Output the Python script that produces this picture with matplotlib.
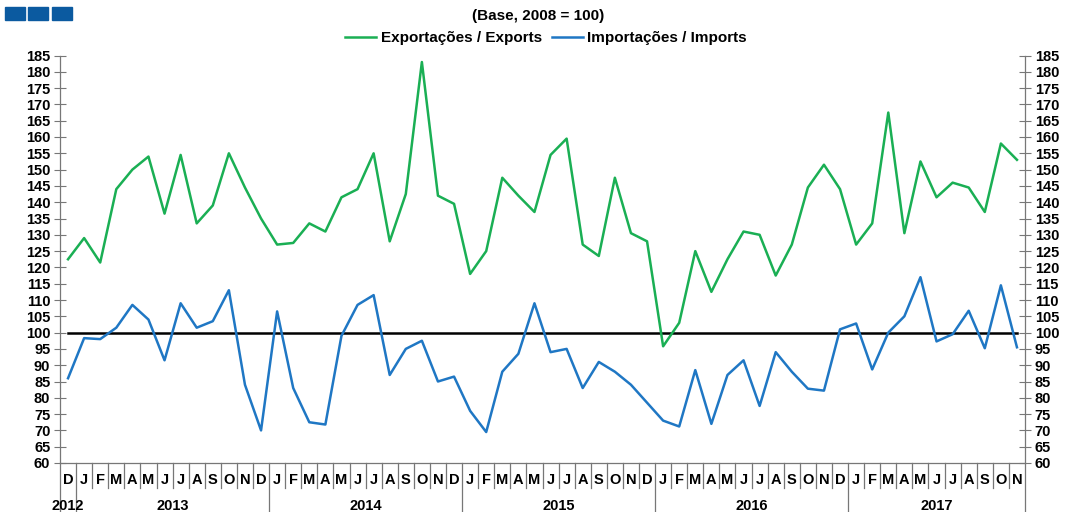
import matplotlib.pyplot as plt
import matplotlib.transforms as mtransforms
from matplotlib.patches import Rectangle
import numpy as np

plt.rcParams['font.family'] = ['Liberation Sans', 'DejaVu Sans']

months = ['D'] + ['J', 'F', 'M', 'A', 'M', 'J', 'J', 'A', 'S', 'O', 'N', 'D'] * 4 + \
         ['J', 'F', 'M', 'A', 'M', 'J', 'J', 'A', 'S', 'O', 'N']
years = ['2012', '2013', '2014', '2015', '2016', '2017']
year_start = [0, 1, 13, 25, 37, 49]

exports = [122.5, 129, 121.5, 144, 150, 154, 136.5, 154.5, 133.5, 139, 155, 144.5, 135,
           127, 127.5, 133.5, 131, 141.5, 144, 155, 128, 142.5, 183, 142, 139.5,
           118, 125, 147.5, 142, 137, 154.5, 159.5, 127, 123.5, 147.5, 130.5, 128,
           95.8, 103, 125, 112.5, 122.5, 131, 130, 117.5, 127, 144.5, 151.5, 144,
           127, 133.5, 167.5, 130.5, 152.5, 141.5, 146, 144.5, 137, 158, 153]
imports = [86, 98.3, 98, 101.5, 108.5, 104, 91.5, 109, 101.5, 103.5, 113, 84, 70,
           106.5, 83, 72.5, 71.8, 99, 108.5, 111.5, 87, 95, 97.5, 85, 86.5,
           76, 69.5, 88, 93.5, 109, 94, 95, 83, 91, 88, 84, 78.5,
           73, 71.2, 88.5, 72, 87, 91.5, 77.5, 94, 88, 82.8, 82.2, 101,
           102.8, 88.7, 100, 105, 117, 97.3, 99.5, 106.7, 95.2, 114.5, 95.5]

x = np.arange(len(months))

fig = plt.figure(figsize=(10.69, 5.12), dpi=100)
ax = fig.add_axes([60 / 1069, 49 / 512, 965 / 1069, 407.5 / 512])

green = '#1aaf54'
blue = '#1f77c4'
ax.plot(x, exports, color=green, lw=1.8, label='Exportações / Exports')
ax.plot(x, imports, color=blue, lw=1.8, label='Importações / Imports')
ax.plot([x[0], x[-1]], [100, 100], color='black', lw=1.8, zorder=1)

ax.set_xlim(-0.5, len(months) - 0.5)
ax.set_ylim(60, 185)
ax.set_yticks(np.arange(60, 186, 5))
ax.tick_params(axis='y', direction='inout', length=8, width=0.8, color='#777777',
               labelsize=10.5, right=True, labelright=True, pad=3)
for lab in ax.get_yticklabels():
    lab.set_fontweight('bold')

ax.set_xticks(x)
ax.set_xticklabels(months, fontweight='bold', fontsize=10.5)
ax.tick_params(axis='x', length=0, pad=7)

ax.spines['top'].set_visible(False)
for side in ['left', 'right', 'bottom']:
    ax.spines[side].set_color('#777777')
    ax.spines[side].set_linewidth(0.9)

trans = mtransforms.blended_transform_factory(ax.transData, ax.transAxes)
for i in range(len(months) - 1):
    depth = -0.125 if (i + 1) in year_start else -0.062
    ax.plot([i + 0.5, i + 0.5], [0, depth], transform=trans, color='#777777',
            lw=0.9, clip_on=False)
ax.plot([-0.5, -0.5], [0, -0.125], transform=trans, color='#777777', lw=0.9, clip_on=False)
ax.plot([59.5, 59.5], [0, -0.125], transform=trans, color='#777777', lw=0.9, clip_on=False)

year_end = year_start[1:] + [len(months)]
for yr, s, e in zip(years, year_start, year_end):
    ax.text((s + e - 1) / 2, -0.105, yr, transform=trans, ha='center', va='center',
            fontsize=10.5, fontweight='bold')

fig.text(0.503, 0.968, '(Base, 2008 = 100)', ha='center', va='center',
         fontsize=11, fontweight='bold')
fig.legend(loc='center', bbox_to_anchor=(0.511, 0.925), ncol=2, frameon=False,
           prop={'weight': 'bold', 'size': 11}, handlelength=2.0, columnspacing=0.7,
           handletextpad=0.3)

for left in [5, 28, 52]:
    fig.patches.append(Rectangle((left / 1069, 1 - 20 / 512), 20 / 1069, 13 / 512,
                                 transform=fig.transFigure, color='#0b5aa0'))

fig.savefig('out.png', dpi=100)
